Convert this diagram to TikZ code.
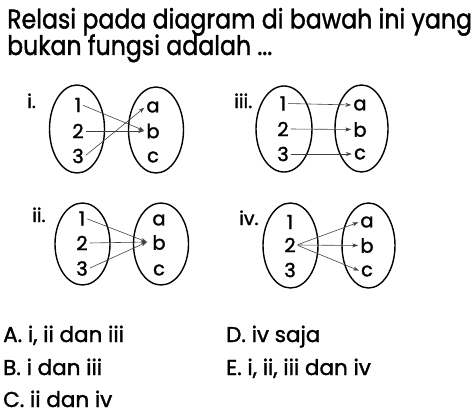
\documentclass[tikz,border=0pt]{standalone}
\usepackage{fontspec}
\setmainfont{Poppins}[FakeBold=1.5]
\usetikzlibrary{arrows.meta}
\newcommand\narrow[2]{\scalebox{#1}[1]{#2}}
\tikzset{
  elt/.style={inner sep=1pt, font=\fontsize{19.5}{19.5}\selectfont},
  lbl/.style={inner sep=0pt, anchor=base west, font=\fontsize{19}{19}\selectfont},
  ans/.style={inner sep=0pt, anchor=base west, font=\fontsize{21.5}{21.5}\selectfont},
  ttl/.style={inner sep=0pt, anchor=base west, font=\fontsize{27}{27}\selectfont},
  setline/.style={line width=1.4pt},
  map/.style={-{Stealth[length=6pt,width=4pt]}, line width=0.6pt, draw=black!75, shorten <=1pt, shorten >=1pt},
}
\begin{document}
\begin{tikzpicture}[x=1pt,y=-1pt]
\useasboundingbox (0,0) rectangle (474,420);
% title
\node[ttl] (t1) at (7,28.5) {\narrow{0.875}{Relasi pada diagram di bawah ini yang}};
\node[ttl] (t2) at (7,55) {\narrow{0.875}{bukan fungsi adalah ...}};
% i
\node[lbl] (li) at (27,108) {i.};
\draw[setline] (77,129) ellipse (27.5 and 44);
\draw[setline] (156,130) ellipse (27.5 and 43);
\node[elt] (i1) at (78,105) {1};
\node[elt] (i2) at (78,131) {2};
\node[elt] (i3) at (78,156) {3};
\node[elt] (ia) at (153,107) {a};
\node[elt] (ib) at (153,131) {b};
\node[elt] (ic) at (153,157) {c};
\draw[map] (i1.east) -- (ib.west);
\draw[map] (i2.east) -- (ib.west);
\draw[map] (i3.east) -- (ia.west);
% iii
\node[lbl] (liii) at (234,108) {iii.};
\draw[setline] (284,129) ellipse (28 and 43);
\draw[setline] (361.5,128.5) ellipse (26.5 and 43.5);
\node[elt] (j1) at (283,103.5) {1};
\node[elt] (j2) at (283,129) {2};
\node[elt] (j3) at (283,154) {3};
\node[elt] (ja) at (360,105) {a};
\node[elt] (jb) at (360,129.5) {b};
\node[elt] (jc) at (360,154) {c};
\draw[map] (j1.east) -- (ja.west);
\draw[map] (j2.east) -- (jb.west);
\draw[map] (j3.east) -- (jc.west);
% ii
\node[lbl] (lii) at (32,222) {ii.};
\draw[setline] (82.5,244) ellipse (27.5 and 41);
\draw[setline] (161,244) ellipse (27.5 and 41);
\node[elt] (k1) at (82,218.5) {1};
\node[elt] (k2) at (82,243) {2};
\node[elt] (k3) at (82,268.5) {3};
\node[elt] (ka) at (159,220) {a};
\node[elt] (kb) at (159,242.5) {b};
\node[elt] (kc) at (159,270) {c};
\coordinate (kt) at (147,242);
\draw[map, shorten >=0pt] (k1.east) -- (kt);
\draw[map, shorten >=0pt] (k2.east) -- (kt);
\draw[map, shorten >=0pt] (k3.east) -- (kt);
% iv
\node[lbl] (liv) at (239,225) {iv.};
\draw[setline] (290.5,245.5) ellipse (27.5 and 42.5);
\draw[setline] (368.5,245.5) ellipse (26.5 and 42.5);
\node[elt] (m1) at (290,222) {1};
\node[elt] (m2) at (290,245) {2};
\node[elt] (m3) at (290,270) {3};
\node[elt] (ma) at (367,222) {a};
\node[elt] (mb) at (367,245.5) {b};
\node[elt] (mc) at (367,271) {c};
\draw[map] (m2.east) -- (ma.west);
\draw[map] (m2.east) -- (mb.west);
\draw[map] (m2.east) -- (mc.west);
% answers
\node[ans] (A) at (3,342) {A. i, ii dan iii};
\node[ans] (B) at (3,375) {B. i dan iii};
\node[ans] (C) at (3,407) {C. ii dan iv};
\node[ans] (D) at (226,342) {D. iv saja};
\node[ans] (E) at (226,375) {E. i, ii, iii dan iv};
\end{tikzpicture}
\end{document}
